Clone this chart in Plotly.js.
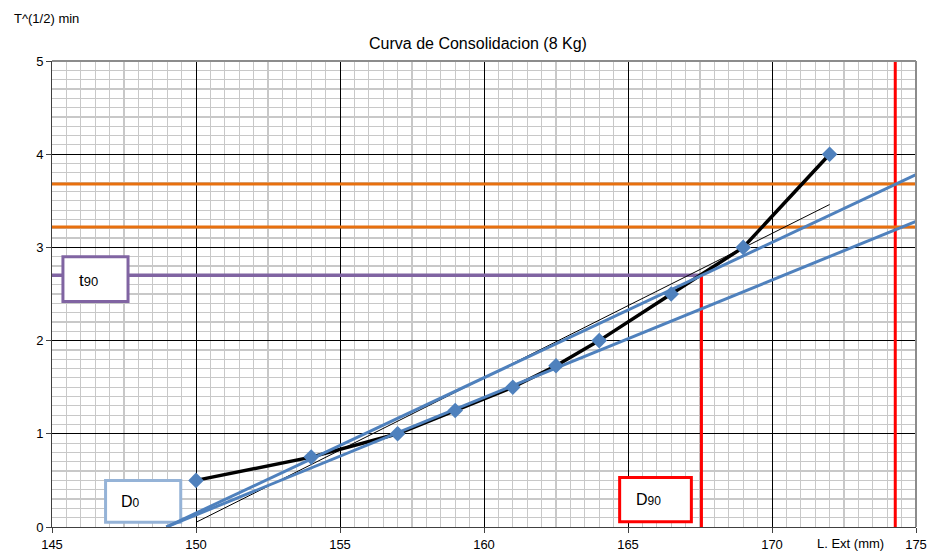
<!DOCTYPE html>
<html>
<head>
<meta charset="utf-8">
<script src="https://cdn.plot.ly/plotly-3.0.1.min.js"></script>
<style>html,body{margin:0;padding:0;background:#fff;}#chart{width:932px;height:554px;}</style>
</head>
<body>
<div id="chart"></div>
<script>
// ---- data ----
const extension = [150, 154, 157, 159, 161, 162.5, 164, 166.5, 169, 172];      // L. Ext (mm)
const sqrtTime  = [0.5, 0.75, 1.0, 1.25, 1.5, 1.73, 2.0, 2.5, 3.0, 4.0];     // T^(1/2) min
const trendX = [150, 172];
const trendY = [0.05, 3.46];
const tangentX = [148.97, 175];
const tangentY = [0, 3.78];
const correctedX = [148.97, 175];
const correctedY = [0, 3.28];
const orangeLevels = [3.68, 3.22];
const d100X = 174.28;
const d90X = 167.55;
const t90Y = 2.7;
const xRange = [145, 175];
const yRange = [0, 5];
const titleText = 'Curva de Consolidacion (8 Kg)';
const yLabel = 'T^(1/2) min';
const xLabel = 'L. Ext (mm)';

const BLUE = '#4F81BD';
const traces = [];
// red verticals
traces.push({x:[d100X, d100X], y:[yRange[0], yRange[1]], mode:'lines', line:{color:'#FF0000', width:3}, hoverinfo:'skip'});
traces.push({x:[d90X, d90X], y:[yRange[0], t90Y], mode:'lines', line:{color:'#FF0000', width:3}, hoverinfo:'skip'});
// orange horizontals
orangeLevels.forEach(v => traces.push({x:[xRange[0], xRange[1]], y:[v, v], mode:'lines', line:{color:'#E8700E', width:3}, hoverinfo:'skip'}));
// purple t90
traces.push({x:[xRange[0], d90X], y:[t90Y, t90Y], mode:'lines', line:{color:'#8064A2', width:3.5}, hoverinfo:'skip'});
// black data line
traces.push({x:extension, y:sqrtTime, mode:'lines', line:{color:'#000', width:3.5}, hoverinfo:'skip'});
// thin trend line
traces.push({x:trendX, y:trendY, mode:'lines', line:{color:'#000', width:1}, hoverinfo:'skip'});
// blue lines
traces.push({x:tangentX, y:tangentY, mode:'lines', line:{color:BLUE, width:3}, hoverinfo:'skip'});
traces.push({x:correctedX, y:correctedY, mode:'lines', line:{color:BLUE, width:3}, hoverinfo:'skip'});
// markers
traces.push({x:extension, y:sqrtTime, mode:'markers', marker:{symbol:'diamond', size:12, color:BLUE}, hoverinfo:'skip'});

const layout = {
  width: 932, height: 554,
  margin: {l:52, r:16, t:61, b:27},
  paper_bgcolor:'#fff', plot_bgcolor:'#fff',
  showlegend:false,
  font:{family:'Liberation Sans, Arial, sans-serif', size:13, color:'#000'},
  title:{text:titleText, font:{size:16, color:'#000'}, x:478/932, xanchor:'center', y:1-43/554, yanchor:'middle'},
  xaxis:{range:xRange, dtick:5, tick0:145, showgrid:true, gridcolor:'#000', gridwidth:1,
    minor:{dtick:0.5, showgrid:true, gridcolor:'#c8c8c8', gridwidth:1.2},
    showline:true, linecolor:'#404040', linewidth:1, ticks:'outside', ticklen:5, tickcolor:'#404040',
    zeroline:false, tickfont:{size:13}},
  yaxis:{range:yRange, dtick:1, showgrid:true, gridcolor:'#000', gridwidth:1,
    minor:{dtick:0.1, showgrid:true, gridcolor:'#c8c8c8', gridwidth:1.2},
    showline:true, linecolor:'#404040', linewidth:1, ticks:'outside', ticklen:5, tickcolor:'#404040',
    zeroline:false, tickfont:{size:13}},
  shapes:[
    {type:'line', xref:'paper', yref:'paper', x0:0, x1:1, y0:1, y1:1, line:{color:'#8c8c8c', width:2}},
    {type:'line', xref:'paper', yref:'paper', x0:1, x1:1, y0:0, y1:1, line:{color:'#8c8c8c', width:2}},
    {type:'rect', xref:'x', yref:'y', x0:145.38, x1:147.64, y0:2.42, y1:2.90, fillcolor:'#fff', line:{color:'#8064A2', width:3}, layer:'above'},
    {type:'rect', xref:'x', yref:'y', x0:146.86, x1:149.47, y0:0.05, y1:0.50, fillcolor:'#fff', line:{color:'#95B3D7', width:3}, layer:'between'},
    {type:'rect', xref:'x', yref:'y', x0:164.71, x1:167.2, y0:0.057, y1:0.53, fillcolor:'#fff', line:{color:'#FF0000', width:3}, layer:'above'}
  ],
  annotations:[
    {text:yLabel, xref:'paper', yref:'paper', x:(12-52)/864, y:(527-18)/466, xanchor:'left', yanchor:'middle', showarrow:false, font:{size:13}},
    {text:xLabel, xref:'paper', yref:'paper', x:(850-52)/864, y:(527-543)/466, xanchor:'center', yanchor:'middle', showarrow:false, font:{size:13}},
    {text:'t<span style="font-size:13px">90</span>', xref:'x', yref:'y', x:145+(77-52.3)/28.8, y:2.65, xanchor:'left', yanchor:'middle', showarrow:false, font:{size:17}},
    {text:'D<span style="font-size:12px">0</span>', xref:'x', yref:'y', x:145+(119-52.3)/28.8, y:0.27, xanchor:'left', yanchor:'middle', showarrow:false, font:{size:16}},
    {text:'D<span style="font-size:12px">90</span>', xref:'x', yref:'y', x:145+(634-52.3)/28.8, y:0.30, xanchor:'left', yanchor:'middle', showarrow:false, font:{size:16}}
  ]
};
Plotly.newPlot('chart', traces, layout, {staticPlot:true, displayModeBar:false});
</script>
</body>
</html>
